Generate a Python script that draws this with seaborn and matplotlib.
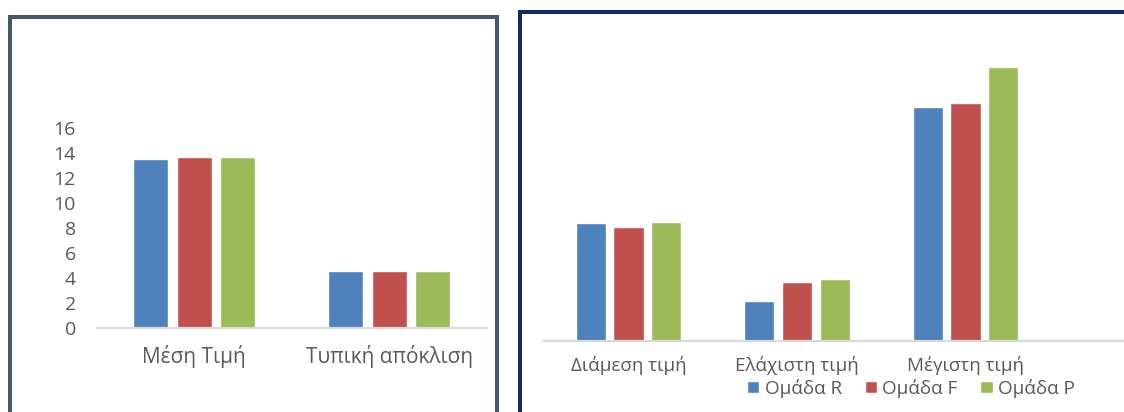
import matplotlib
matplotlib.use("Agg")
import matplotlib.pyplot as plt
from matplotlib.patches import Rectangle
import pandas as pd
import seaborn as sns

# ---- data ----
groups = ["Ομάδα R", "Ομάδα F", "Ομάδα P"]
colors = ["#4F81BD", "#C0504D", "#9BBB59"]

left_categories = ["Μέση Τιμή", "Τυπική απόκλιση"]
left_mean = [13.55, 13.7, 13.7]
left_std = [4.6, 4.6, 4.6]
left_ticks = [0, 2, 4, 6, 8, 10, 12, 14, 16]

right_categories = ["Διάμεση τιμή", "Ελάχιστη τιμή", "Μέγιστη τιμή"]
right_median = [14.0, 13.5, 14.1]
right_min = [4.75, 7.0, 7.3]
right_max = [27.9, 28.35, 32.7]

sns.set_theme(style="white")
plt.rcParams["font.family"] = ["Open Sans", "DejaVu Sans"]
TEXT = "#595959"

W, H = 1124, 412
fig = plt.figure(figsize=(W / 100, H / 100), dpi=100)


def px_axes(x0, x1, y_top, y_bottom):
    return fig.add_axes([x0 / W, (H - y_bottom) / H, (x1 - x0) / W, (y_bottom - y_top) / H])


def long_form(categories, series_by_cat):
    rows = []
    for cat, vals in zip(categories, series_by_cat):
        for g, v in zip(groups, vals):
            rows.append({"stat": cat, "group": g, "value": v})
    return pd.DataFrame(rows)


def style_axes(ax):
    for side in ["top", "right", "left"]:
        ax.spines[side].set_visible(False)
    ax.spines["bottom"].set_color("#D9D9D9")
    ax.spines["bottom"].set_linewidth(1.6)
    ax.grid(False)
    ax.set_xlabel("")
    ax.set_ylabel("")


# ---- left chart ----
axL = px_axes(96.7, 486.7, 128.3, 328.3)
dfL = long_form(left_categories, [left_mean, left_std])
sns.barplot(data=dfL, x="stat", y="value", hue="group", palette=colors,
            saturation=1, width=0.673, gap=0.2, legend=False, ax=axL)
style_axes(axL)
axL.set_ylim(0, 16)
axL.set_yticks(left_ticks)
axL.set_yticklabels([str(t) for t in left_ticks])
axL.tick_params(axis="y", length=0, pad=15, labelsize=14, labelcolor=TEXT)
axL.tick_params(axis="x", length=0, pad=12, labelsize=15, labelcolor=TEXT)
axL.set_xlim(-0.5, 1.5)

# ---- right chart ----
px_per_unit = 117.2 / 14.0
axR = px_axes(544.3, 1124, 40, 340.5)
dfR = long_form(right_categories, [right_median, right_min, right_max])
sns.barplot(data=dfR, x="stat", y="value", hue="group", palette=colors,
            saturation=1, width=0.673, gap=0.2, ax=axR)
style_axes(axR)
axR.set_ylim(0, 300.5 / px_per_unit)
axR.set_yticks([])
axR.set_xlim(-0.5, -0.5 + (1124 - 544.3) / 168.5)
axR.tick_params(axis="x", length=0, pad=11, labelsize=13.5, labelcolor=TEXT)

handles, labels = axR.get_legend_handles_labels()
leg = axR.legend(handles, labels, ncol=3, frameon=False,
                 loc="center", bbox_to_anchor=(911 / W, (H - 388) / H),
                 bbox_transform=fig.transFigure,
                 fontsize=13.6, handlelength=0.65, handleheight=0.65,
                 handletextpad=0.3, columnspacing=1.2, borderpad=0)
for t in leg.get_texts():
    t.set_color(TEXT)

# ---- panel frames ----
fig.patches.append(Rectangle((10 / W, (H - 440) / H), (497 - 10) / W, (440 - 16.7) / H,
                             transform=fig.transFigure, fill=False,
                             edgecolor="#46566E", linewidth=2.9, zorder=10))
fig.patches.append(Rectangle((519.7 / W, (H - 440) / H), (1150 - 519.7) / W, (440 - 12) / H,
                             transform=fig.transFigure, fill=False,
                             edgecolor="#102A66", linewidth=2.9, zorder=10))

fig.savefig("out.png", dpi=100)
